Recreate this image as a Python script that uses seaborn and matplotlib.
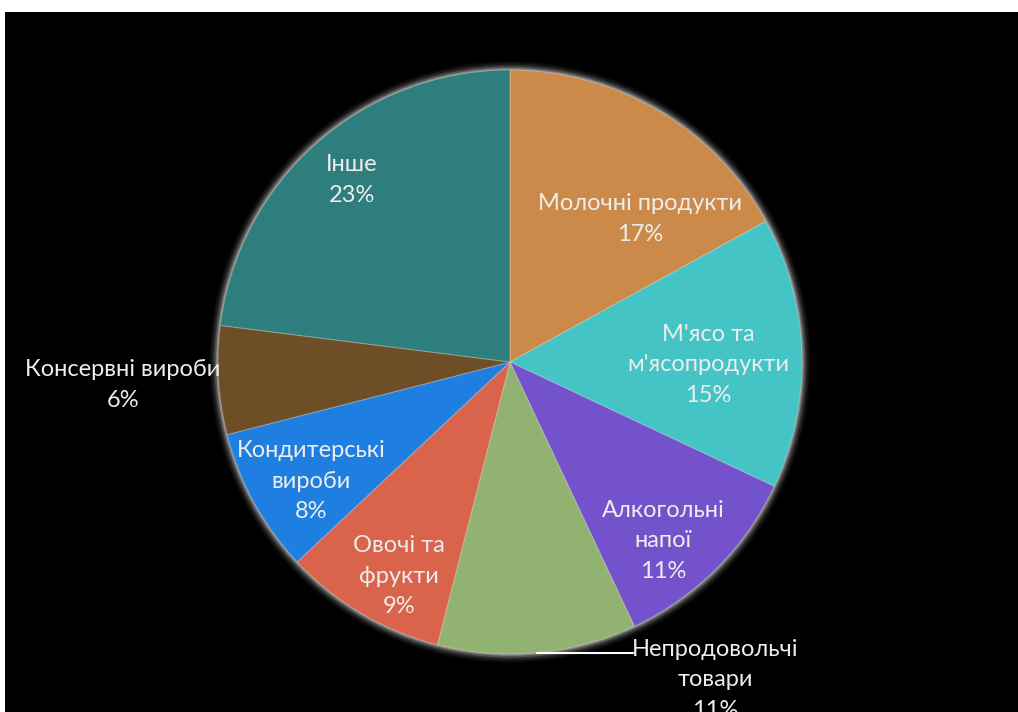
import numpy as np
import matplotlib
matplotlib.use("Agg")
import matplotlib.pyplot as plt
import seaborn as sns
from matplotlib.patches import Circle

# ---- data ----
categories = ["Молочні продукти", "М'ясо та\nм'ясопродукти", "Алкогольні\nнапої",
              "Непродовольчі\nтовари", "Овочі та\nфрукти", "Кондитерські\nвироби",
              "Консервні вироби", "Інше"]
shares = [17, 15, 11, 11, 9, 8, 6, 23]
colors = ["#CC8A4A", "#44C4C4", "#7452CC", "#92B272", "#D9644B", "#1F7FE0", "#6E4E26", "#2E7E7E"]

# label block centres (data coordinates of the pie, radius 1)
label_pos = [(0.445, 0.49), (0.678, -0.01), (0.524, -0.613), (0.702, -1.089),
             (-0.38, -0.733), (-0.68, -0.408), (-1.325, -0.079), (-0.541, 0.623)]

sns.set_theme(style="white")
plt.rcParams["font.family"] = ["Lato", "DejaVu Sans"]

W, H = 1018, 712
fig = plt.figure(figsize=(W / 100, H / 100), dpi=100, facecolor="white")
bg = fig.add_axes([5 / W, 0, 1 - 5 / W, (H - 12) / H], zorder=-5)
bg.set_facecolor("black")
bg.set_xticks([]); bg.set_yticks([])
for sp in bg.spines.values():
    sp.set_visible(False)

cx, cy, R = 510, 362, 292
ax = fig.add_axes([(cx - R) / W, (H - cy - R) / H, 2 * R / W, 2 * R / H], zorder=1)
ax.set_facecolor("none")

# soft glow around pie
for i, a in enumerate([0.04, 0.06, 0.10, 0.18, 0.3]):
    ax.add_patch(Circle((0, 0), 1.03 - i * 0.006, facecolor="white", alpha=a,
                        edgecolor="none", zorder=0, clip_on=False))

wedges, _ = ax.pie(shares, colors=colors, startangle=90, counterclock=False,
                   radius=1.0, wedgeprops=dict(edgecolor=(1, 1, 1, 0.25), linewidth=0.8))
for w in wedges:
    w.set_zorder(2)

total = sum(shares)
cum = 0
for i, (lab, s) in enumerate(zip(categories, shares)):
    mid = 90 - 360 * (cum + s / 2) / total
    cum += s
    x, y = label_pos[i]
    ax.text(x, y, f"{lab}\n{s}%", ha="center", va="center", color="#EDEDED",
            fontsize=17, linespacing=1.55, zorder=5)
    if i == 3:
        ex, ey = np.cos(np.radians(mid)), np.sin(np.radians(mid))
        ax.plot([ex, 0.42], [ey, ey], color="white", lw=1.5, zorder=5, clip_on=False)

ax.set_xlim(-1, 1)
ax.set_ylim(-1, 1)
ax.axis("off")

fig.savefig("out.png", dpi=100, facecolor="white")
